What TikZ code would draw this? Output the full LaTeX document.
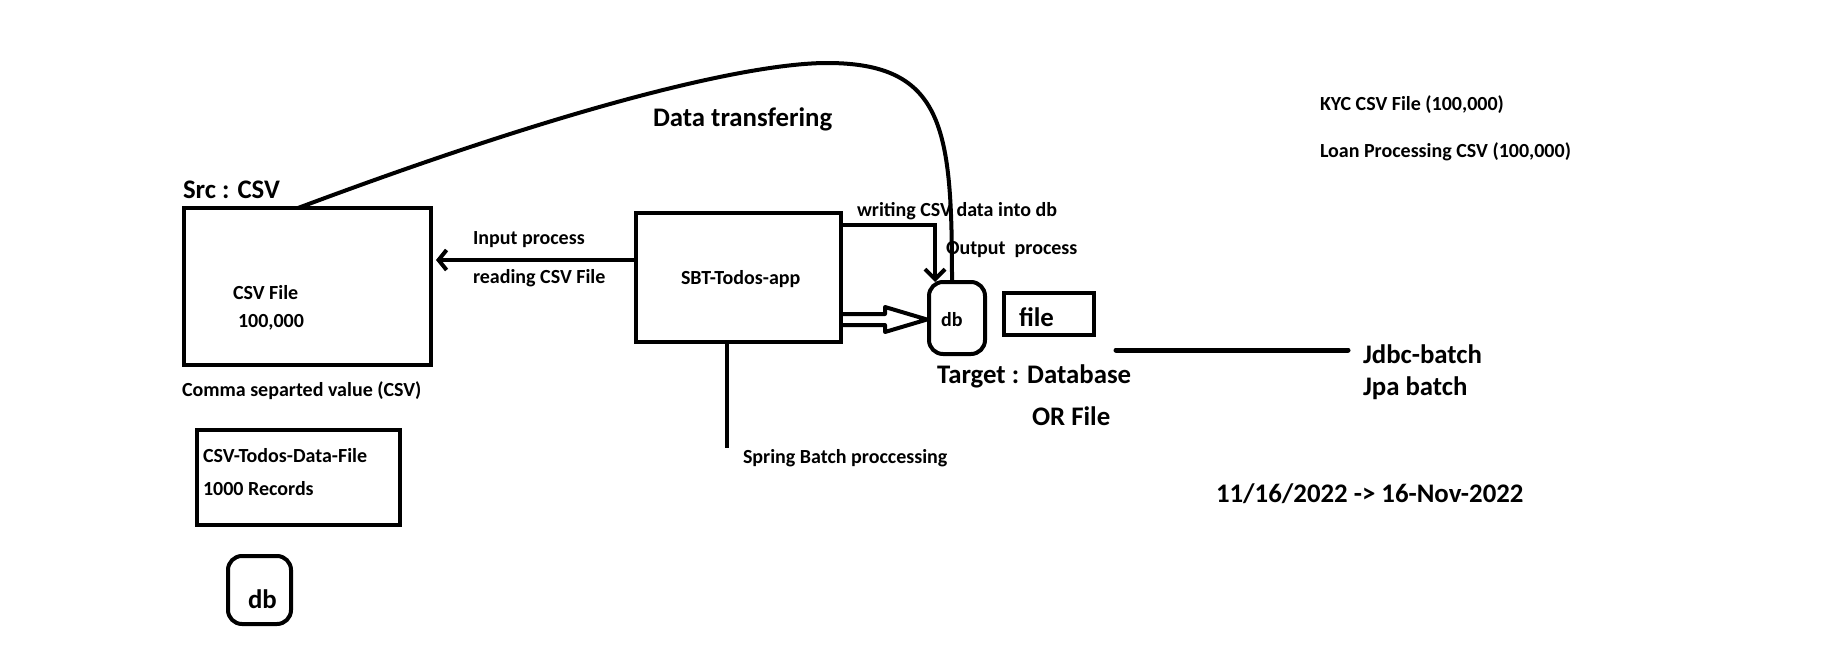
\documentclass[tikz,border=0pt]{standalone}
\usepackage{fontspec}
\setmainfont{Carlito}
\usepackage{tikz}
\usetikzlibrary{arrows.meta}
\usetikzlibrary{calc}
\tikzstyle{box}=[draw, line width=2pt, inner sep=0, outer sep=0]
\tikzstyle{dbbox}=[box, rounded corners=7pt]
\tikzstyle{wire}=[line width=2pt]
\tikzstyle{lbl}=[inner sep=0, outer sep=0, anchor=base west, font=\bfseries\fontsize{10}{12}\selectfont]
\tikzstyle{biglbl}=[lbl, font=\bfseries\fontsize{13.4}{16}\selectfont]
\tikzstyle{sketch}=[x=0.5pt, y=-0.5pt]
% Open arrow heads as drawn by hand.
\tikzset{barb/.style={-{Straight Barb[length=#1, width=10pt]}}}

\begin{document}
\begin{tikzpicture}[sketch]
        \useasboundingbox (0,0) rectangle (1847,648);
        % Boxes.
        \node[box, minimum width=123.5pt, minimum height=78.5pt]   (src) at (307.5,286.5) {};
        \node[box, minimum width=102.5pt, minimum height=64.5pt]   (app) at (738.5,277.5) {};
        \node[dbbox, minimum width=28pt, minimum height=36pt]      (db) at (957,318) {};
        \node[box, minimum width=45pt, minimum height=21pt]        (filebox) at (1049,314) {};
        \node[box, minimum width=101.5pt, minimum height=47.5pt]   (todos) at (298.5,477.5) {};
        \node[dbbox, minimum width=31.5pt, minimum height=34pt]    (dbsmall) at (259.5,590) {};
        % Labels.
        \node[biglbl] (srctitle) at (183,198) {Src : CSV};
        \node[lbl]    (csvfile) at (233,299) {CSV File};
        \node[lbl]    (csvcount) at (238,327) {100,000};
        \node[lbl]    (csvnote) at (182,396) {Comma separted value (CSV)};
        \node[lbl]    (inproc) at (473,244) {Input process};
        \node[lbl]    (readcsv) at (473,283) {reading CSV File};
        \node[biglbl] (transfer) at (653,126) {Data transfering};
        \node[lbl]    (apptext) at (681,284) {SBT-Todos-app};
        \node[lbl]    (writecsv) at (857,216) {writing CSV data into db};
        \node[lbl]    (outproc) at (946,254) {Output\ \ process};
        \node[lbl]    (dbtext) at (941,326) {db};
        \node[biglbl] (filetext) at (1019,326) {file};
        \node[biglbl] (target) at (937,383) {Target : Database};
        \node[biglbl] (orfile) at (1032,425) {OR File};
        \node[lbl]    (spring) at (743,463) {Spring Batch proccessing};
        \node[biglbl] (jdbc) at (1363,363) {Jdbc-batch};
        \node[biglbl] (jpa) at (1363,395) {Jpa batch};
        \node[biglbl] (datefmt) at (1216,502) {11/16/2022 -> 16-Nov-2022};
        \node[lbl]    (kyc) at (1320,110) {KYC CSV File (100,000)};
        \node[lbl]    (loan) at (1320,157) {Loan Processing CSV (100,000)};
        \node[lbl]    (todostext) at (203,462) {CSV-Todos-Data-File};
        \node[lbl]    (records) at (203,495) {1000 Records};
        \node[biglbl] (dbsmalltext) at (248,608) {db};
        % Connectors.
        \coordinate (readrow) at (0,260);
        \coordinate (wbend) at (935,225);
        \coordinate (fatrow) at (0,319.5);
        \coordinate (fattip) at ([xshift=-1pt]db.west |- fatrow);
        \coordinate (peak) at (827,63);
        \coordinate (springend) at (727,448);
        \coordinate (tgtend) at (1116,350);
        \draw[wire, barb=4pt, shorten >=2.5pt] (app.west |- readrow) -- (src.east |- readrow);
        \draw[wire, barb=5pt] (app.east |- wbend) -- (wbend) -- (wbend |- db.north);
        \draw[wire, line join=round] ([yshift=2.75pt]app.east |- fatrow) -| ([xshift=-21pt, yshift=6.25pt]fattip)
            -- (fattip) -- ([xshift=-21pt, yshift=-6.25pt]fattip) |- ([yshift=-2.75pt]app.east |- fatrow);
        \draw[wire] ([xshift=-4.75pt]src.north) .. controls (600,95) and (760,63) .. (peak)
            .. controls (945,63) and (952,130) .. ([xshift=-2.5pt]db.north);
        \draw[wire] (app.south -| springend) -- (springend);
        \draw[line width=2.5pt, line cap=round, shorten >=7.5pt] (tgtend) -- (tgtend -| jdbc.west);
    \end{tikzpicture}
\end{document}
